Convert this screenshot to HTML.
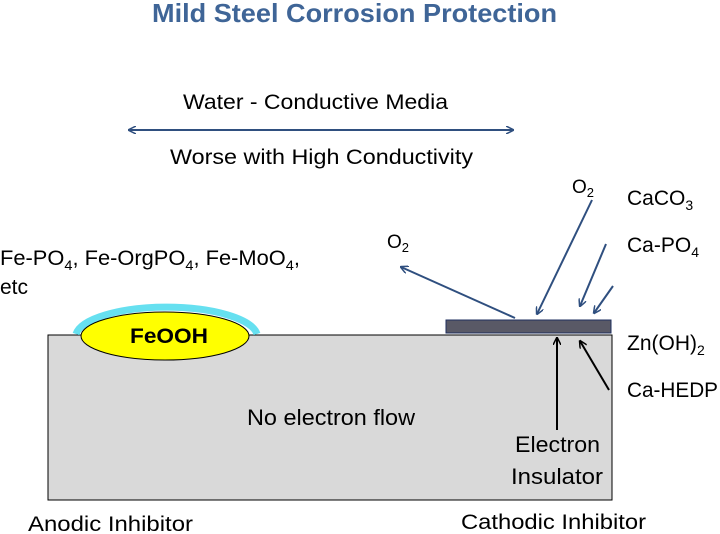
<!DOCTYPE html>
<html><head><meta charset="utf-8"><style>
body{margin:0;width:720px;height:534px;background:#fff;overflow:hidden;font-family:"Liberation Sans",sans-serif}
svg{display:block}
text{font-family:"Liberation Sans",sans-serif}
</style></head><body>
<svg width="720" height="534" viewBox="0 0 720 534">
<defs>
<marker id="ab" markerWidth="8" markerHeight="8" refX="7" refY="4" orient="auto-start-reverse" markerUnits="userSpaceOnUse"><path d="M0,0 L8,4 L0,8" fill="none" stroke="#2f4f7f" stroke-width="1.5"/></marker>
<marker id="ak" markerWidth="8" markerHeight="8" refX="7" refY="4" orient="auto" markerUnits="userSpaceOnUse"><path d="M0,0 L8,4 L0,8" fill="none" stroke="#000" stroke-width="1.5"/></marker>
</defs>
<text x="152" y="22" font-size="26" font-weight="bold" fill="#3f6597" textLength="405" lengthAdjust="spacingAndGlyphs">Mild Steel Corrosion Protection</text>
<text x="183" y="109" font-size="21" textLength="265" lengthAdjust="spacingAndGlyphs">Water - Conductive Media</text>
<line x1="129" y1="130" x2="513" y2="130" stroke="#2f4f7f" stroke-width="2" marker-start="url(#ab)" marker-end="url(#ab)"/>
<text x="170" y="164" font-size="21" textLength="303" lengthAdjust="spacingAndGlyphs">Worse with High Conductivity</text>
<rect x="48" y="335" width="564" height="165" fill="#d9d9d9" stroke="#000" stroke-width="1"/>
<path d="M76,334 A91,30 0 0 1 257,334" fill="none" stroke="#66e0f0" stroke-width="7"/>
<ellipse cx="165" cy="336" rx="84" ry="24" fill="#ffff00" stroke="#000" stroke-width="1"/>
<text x="130" y="343" font-size="21" font-weight="bold" textLength="78" lengthAdjust="spacingAndGlyphs">FeOOH</text>
<text x="0" y="265" font-size="21" textLength="300" lengthAdjust="spacingAndGlyphs">Fe-PO<tspan font-size="14" dy="5">4</tspan><tspan dy="-5">, Fe-OrgPO</tspan><tspan font-size="14" dy="5">4</tspan><tspan dy="-5">, Fe-MoO</tspan><tspan font-size="14" dy="5">4</tspan><tspan dy="-5">,</tspan></text>
<text x="0" y="294" font-size="21">etc</text>
<rect x="446" y="320" width="165" height="13" fill="#595966" stroke="#1f2f5f" stroke-width="1"/>
<line x1="515" y1="318" x2="401" y2="267" stroke="#2f4f7f" stroke-width="2" marker-end="url(#ab)"/>
<line x1="592" y1="200" x2="537" y2="314" stroke="#2f4f7f" stroke-width="2" marker-end="url(#ab)"/>
<line x1="606" y1="244" x2="580" y2="306" stroke="#2f4f7f" stroke-width="2" marker-end="url(#ab)"/>
<line x1="613" y1="286" x2="594" y2="313" stroke="#2f4f7f" stroke-width="2" marker-end="url(#ab)"/>
<line x1="557" y1="430" x2="557" y2="338" stroke="#000" stroke-width="2" marker-end="url(#ak)"/>
<line x1="609" y1="390" x2="580" y2="341" stroke="#000" stroke-width="2" marker-end="url(#ak)"/>
<text x="387" y="248" font-size="19">O<tspan font-size="13" dy="4">2</tspan></text>
<text x="572" y="193" font-size="19">O<tspan font-size="13" dy="4">2</tspan></text>
<text x="627" y="205" font-size="21">CaCO<tspan font-size="14" dy="5">3</tspan></text>
<text x="627" y="252" font-size="21">Ca-PO<tspan font-size="14" dy="5">4</tspan></text>
<text x="627" y="350" font-size="21">Zn(OH)<tspan font-size="14" dy="5">2</tspan></text>
<text x="627" y="397" font-size="21" textLength="91" lengthAdjust="spacingAndGlyphs">Ca-HEDP</text>
<text x="247" y="425" font-size="22" textLength="168" lengthAdjust="spacingAndGlyphs">No electron flow</text>
<text x="515" y="452" font-size="22" textLength="85" lengthAdjust="spacingAndGlyphs">Electron</text>
<text x="511" y="484" font-size="22" textLength="92" lengthAdjust="spacingAndGlyphs">Insulator</text>
<text x="28" y="531" font-size="21" textLength="165" lengthAdjust="spacingAndGlyphs">Anodic Inhibitor</text>
<text x="461" y="529" font-size="21" textLength="185" lengthAdjust="spacingAndGlyphs">Cathodic Inhibitor</text>
</svg>
</body></html>
